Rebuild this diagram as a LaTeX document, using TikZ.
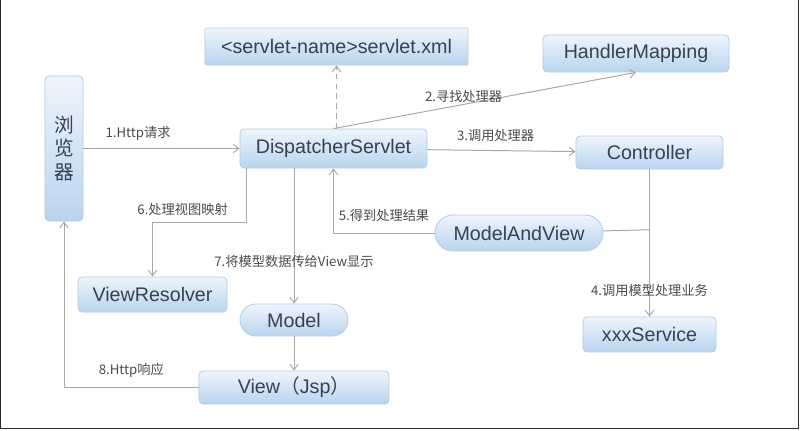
\documentclass[tikz,border=0pt]{standalone}
\usepackage{fontspec}
\setmainfont{Liberation Sans}
\newfontfamily\cjk{Noto Sans CJK SC}
\usetikzlibrary{arrows.meta,calc}
\definecolor{boxtop}{HTML}{EEF5FC}
\definecolor{boxbottom}{HTML}{B9D4EE}
\definecolor{boxline}{HTML}{B3CDE6}
\definecolor{textdark}{HTML}{36424F}
\definecolor{linegray}{HTML}{A8A8A8}
\definecolor{labelgray}{HTML}{4A4A4A}
\definecolor{framedark}{HTML}{2B2B2B}
\tikzset{
  box/.style={
    rectangle, rounded corners=3pt, draw=boxline, line width=0.6pt,
    top color=boxtop, bottom color=boxbottom, align=center, inner sep=0pt,
    font=\fontsize{14}{16}\selectfont, text=textdark
  },
  pill/.style={box, rounded corners=#1},
  flow/.style={-{Straight Barb[length=4pt,width=6pt]}, line width=0.7pt, draw=linegray},
  lbl/.style={font=\cjk\fontsize{9.4}{11}\selectfont, text=labelgray, inner sep=1pt}
}

\begin{document}
\begin{tikzpicture}[x=0.025cm, y=-0.025cm]
\useasboundingbox (0,0) rectangle (800,430);
\draw[framedark, line width=1.2pt] (0.6,0) -- (0.6,428.6) -- (798.6,428.6) -- (798.6,0);
\node[box, rounded corners=1pt, minimum width=6.575cm, minimum height=0.925cm] (xml) at (336.5,46.5) {<servlet-name>servlet.xml};
\node[box, minimum width=4.65cm, minimum height=0.925cm] (hm) at (636,53.5) {HandlerMapping};
\node[box, font=\cjk\fontsize{14}{17}\selectfont, minimum width=0.95cm, minimum height=3.625cm] (br) at (64,148.5) {浏\\览\\器};
\node[box, minimum width=4.675cm, minimum height=0.975cm] (ds) at (333.5,148.5) {DispatcherServlet};
\node[box, minimum width=3.675cm, minimum height=0.825cm] (ctrl) at (649.5,152.5) {Controller};
\node[pill=0.45cm, minimum width=4.2cm, minimum height=0.9cm] (mav) at (519,233) {ModelAndView};
\node[box, minimum width=3.725cm, minimum height=0.875cm] (vr) at (152.5,294.5) {ViewResolver};
\node[pill=0.4cm, minimum width=2.7cm, minimum height=0.8cm] (model) at (294,320) {Model};
\node[box, minimum width=4.75cm, minimum height=0.825cm] (view) at (294,387.5) {View{\cjk （}Jsp{\cjk ）}};
\node[box, minimum width=3.325cm, minimum height=0.875cm] (svc) at (649.5,334.5) {xxxService};
\coordinate (c4) at ($(ctrl.south)!0.41!(svc.north)$);
\coordinate (c6) at (0,222);
\draw[flow, dash pattern=on 4pt off 3pt] (xml.south |- ds.north) -- (xml.south);
\draw[flow] (br) -- (ds) node[lbl, pos=0.35, above=4pt] {1.Http请求};
\draw[flow] (ds.north) -- (hm.south) node[lbl, pos=0.43, above=0pt] {2.寻找处理器};
\draw[flow] (ds) -- (ctrl) node[lbl, pos=0.46, above=5pt] {3.调用处理器};
\draw[flow] (ctrl) -- (svc) node[lbl, pos=0.82] {4.调用模型处理业务};
\draw[linegray, line width=0.7pt] (mav) -- (c4);
\draw[flow] (mav.west) -| (ds.south) node[lbl, pos=0.25, above=7pt] {5.得到处理结果};
\draw[flow] ([xshift=5pt]ds.south west) |- (vr.north |- c6) node[lbl, pos=0.84, above=3pt] {6.处理视图映射} -- (vr.north);
\draw[flow] (model.north |- ds.south) -- (model.north) node[lbl, pos=0.69] {7.将模型数据传给View显示};
\draw[flow] (model) -- (view);
\draw[flow] (view.west) -| (br.south) node[lbl, pos=0.25, above=6pt] {8.Http响应};
\end{tikzpicture}
\end{document}
